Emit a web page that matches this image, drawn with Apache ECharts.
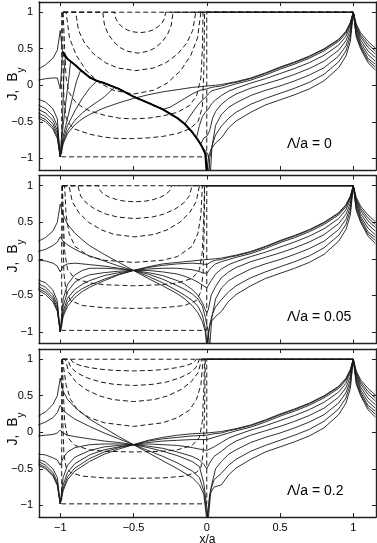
<!DOCTYPE html>
<html><head><meta charset="utf-8">
<script src="https://cdn.jsdelivr.net/npm/echarts@6/dist/echarts.min.js"></script>
<style>html,body{margin:0;padding:0;background:#fff}#c{width:377px;height:543px}</style>
</head><body><div id="c"></div>
<script>
// ---------- tick labels / panel labels ----------
const xTicks = [-1, -0.5, 0, 0.5, 1];
const yTicks = [-1, -0.5, 0, 0.5, 1];
const panelLabels = ['Λ/a = 0', 'Λ/a = 0.05', 'Λ/a = 0.2'];

// ---------- right-hand part (x >= 0.1), shared by all panels ----------
const XR = [0.1,0.15,0.2,0.3,0.4,0.5,0.6,0.7,0.8,0.9,0.95,0.98,1,1.02,1.05,1.1,1.15];
const R0 = [0.01,0.03,0.05,0.1,0.17,0.25,0.32,0.4,0.5,0.63,0.74,0.86,1,0.84,0.72,0.6,0.51];
const R1 = [-0.01,0.02,0.04,0.09,0.16,0.24,0.31,0.39,0.49,0.62,0.73,0.85,1,0.82,0.69,0.56,0.47];
const R2 = [-0.04,-0.01,0.02,0.07,0.14,0.22,0.29,0.37,0.47,0.6,0.71,0.84,1,0.8,0.66,0.52,0.43];
const R3 = [-0.14,-0.08,-0.04,0.03,0.09,0.16,0.23,0.31,0.41,0.55,0.67,0.81,1,0.78,0.62,0.47,0.38];
const R4 = [-0.26,-0.18,-0.12,-0.04,0.02,0.08,0.15,0.23,0.33,0.48,0.61,0.76,1,0.75,0.58,0.42,0.33];
const R5 = [-0.4,-0.3,-0.24,-0.14,-0.07,-0.01,0.06,0.14,0.24,0.4,0.54,0.71,1,0.72,0.55,0.37,0.29];
const R6 = [-0.56,-0.45,-0.37,-0.26,-0.18,-0.11,-0.04,0.04,0.15,0.32,0.47,0.66,1,0.69,0.52,0.34,0.25];
const R7 = [-0.72,-0.58,-0.49,-0.37,-0.27,-0.2,-0.13,-0.05,0.06,0.24,0.4,0.6,1,0.66,0.5,0.31,0.21];

// ---------- panel 1 (Λ/a = 0): B_y, left part ----------
const L1_0 = [[-1.15,-0.45],[-1.1,-0.5],[-1.05,-0.6],[-1.02,-0.73],[-1,-0.98],[-0.98,-0.8],[-0.95,-0.66],[-0.9,-0.54],[-0.85,-0.46],[-0.8,-0.4],[-0.7,-0.31],[-0.6,-0.24],[-0.5,-0.18],[-0.4,-0.13],[-0.3,-0.09],[-0.2,-0.06],[-0.1,-0.03],[0,-0.01],[0.06,0.0]];
const L1_1 = [[-1.15,-0.42],[-1.1,-0.47],[-1.05,-0.57],[-1.02,-0.7],[-1,-0.98],[-0.98,-0.78],[-0.95,-0.62],[-0.9,-0.48],[-0.85,-0.38],[-0.8,-0.3],[-0.7,-0.16],[-0.63,-0.03],[-0.6,-0.05],[-0.5,-0.155],[-0.4,-0.24],[-0.3,-0.33],[-0.25,-0.3],[-0.2,-0.24],[-0.15,-0.18],[-0.1,-0.12],[-0.06,-0.08],[-0.03,-0.06],[0,-0.05],[0.03,-0.03],[0.06,-0.02]];
const L1_2 = [[-1.15,-0.38],[-1.1,-0.43],[-1.05,-0.53],[-1.02,-0.66],[-1,-0.98],[-0.98,-0.75],[-0.95,-0.55],[-0.9,-0.35],[-0.85,-0.18],[-0.8,-0.04],[-0.75,0.06],[-0.7,0.03],[-0.6,-0.05],[-0.5,-0.155],[-0.4,-0.24],[-0.3,-0.33],[-0.2,-0.45],[-0.15,-0.53],[-0.1,-0.38],[-0.06,-0.27],[-0.03,-0.2],[-0.01,-0.17],[0.01,-0.12],[0.03,-0.08],[0.06,-0.06]];
const L1_3 = [[-1.15,-0.33],[-1.1,-0.38],[-1.05,-0.48],[-1.02,-0.62],[-1,-0.98],[-0.98,-0.7],[-0.95,-0.45],[-0.92,-0.2],[-0.89,0.05],[-0.86,0.21],[-0.85,0.19],[-0.8,0.11],[-0.75,0.06],[-0.7,0.03],[-0.6,-0.05],[-0.5,-0.155],[-0.4,-0.24],[-0.3,-0.33],[-0.2,-0.45],[-0.15,-0.53],[-0.1,-0.64],[-0.07,-0.72],[-0.05,-0.55],[-0.03,-0.43],[-0.01,-0.37],[0.01,-0.33],[0.03,-0.26],[0.06,-0.2]];
const L1_4 = [[-1.15,-0.27],[-1.1,-0.32],[-1.05,-0.42],[-1.02,-0.56],[-1,-0.98],[-0.98,-0.55],[-0.96,-0.2],[-0.94,0.12],[-0.93,0.32],[-0.9,0.28],[-0.85,0.19],[-0.8,0.11],[-0.75,0.06],[-0.7,0.03],[-0.6,-0.05],[-0.5,-0.155],[-0.4,-0.24],[-0.3,-0.33],[-0.2,-0.45],[-0.15,-0.53],[-0.1,-0.64],[-0.06,-0.75],[-0.04,-0.8],[-0.02,-0.72],[0,-0.7],[0.02,-0.62],[0.04,-0.45],[0.06,-0.36]];
const L1_5 = [[-1.15,-0.19],[-1.1,-0.23],[-1.05,-0.32],[-1.02,-0.46],[-1,-0.98],[-0.985,-0.5],[-0.975,0.15],[-0.965,0.4],[-0.95,0.36],[-0.9,0.28],[-0.85,0.19],[-0.8,0.11],[-0.75,0.06],[-0.7,0.03],[-0.6,-0.05],[-0.5,-0.155],[-0.4,-0.24],[-0.3,-0.33],[-0.2,-0.45],[-0.15,-0.53],[-0.1,-0.64],[-0.06,-0.75],[-0.03,-0.85],[-0.015,-0.88],[0.01,-0.95],[0.025,-1.2],[0.035,-0.85],[0.06,-0.55]];
const L1_6 = [[-1.15,0.07],[-1.1,0.09],[-1.05,0.1],[-1.02,0.1],[-1,-0.05],[-0.985,0.42],[-0.95,0.36],[-0.9,0.28],[-0.85,0.19],[-0.8,0.11],[-0.75,0.06],[-0.7,0.03],[-0.6,-0.05],[-0.5,-0.155],[-0.4,-0.24],[-0.3,-0.33],[-0.2,-0.45],[-0.15,-0.53],[-0.1,-0.64],[-0.06,-0.75],[-0.03,-0.85],[-0.01,-0.94],[0.012,-1.2],[0.02,-1.0],[0.04,-0.8],[0.06,-0.68]];
const L1_7 = [[-1.15,0.22],[-1.1,0.28],[-1.05,0.37],[-1.02,0.48],[-1,0.75],[-0.985,0.46],[-0.95,0.36],[-0.9,0.28],[-0.85,0.19],[-0.8,0.11],[-0.75,0.06],[-0.7,0.03],[-0.6,-0.05],[-0.5,-0.155],[-0.4,-0.24],[-0.3,-0.33],[-0.2,-0.45],[-0.15,-0.53],[-0.1,-0.64],[-0.06,-0.75],[-0.03,-0.85],[-0.01,-0.94],[0,-1.2],[0.01,-1.0],[0.03,-0.87],[0.06,-0.79]];
const T1 = [[-0.985,0.46],[-0.95,0.36],[-0.9,0.28],[-0.85,0.19],[-0.8,0.11],[-0.75,0.06],[-0.7,0.03],[-0.6,-0.05],[-0.5,-0.155],[-0.4,-0.24],[-0.3,-0.33],[-0.2,-0.45],[-0.15,-0.53],[-0.1,-0.64],[-0.06,-0.75],[-0.03,-0.85],[-0.01,-0.94],[0,-1.2]];

// ---------- panel 2 (Λ/a = 0.05): B_y, left part ----------
const L2_0 = [[-1.15,-0.43],[-1.1,-0.49],[-1.05,-0.59],[-1.02,-0.72],[-1,-1.0],[-0.98,-0.79],[-0.95,-0.65],[-0.9,-0.53],[-0.85,-0.45],[-0.8,-0.39],[-0.7,-0.3],[-0.6,-0.22],[-0.5,-0.16],[-0.4,-0.11],[-0.3,-0.07],[-0.2,-0.05],[-0.1,-0.03],[0,-0.01],[0.06,0.0]];
const L2_1 = [[-1.15,-0.41],[-1.1,-0.46],[-1.05,-0.56],[-1.02,-0.7],[-1,-1.0],[-0.98,-0.76],[-0.95,-0.6],[-0.9,-0.48],[-0.85,-0.41],[-0.8,-0.36],[-0.7,-0.28],[-0.6,-0.21],[-0.5,-0.16],[-0.4,-0.12],[-0.3,-0.09],[-0.2,-0.07],[-0.1,-0.06],[-0.03,-0.07],[0,-0.08],[0.03,-0.04],[0.06,-0.02]];
const L2_2 = [[-1.15,-0.38],[-1.1,-0.43],[-1.05,-0.53],[-1.02,-0.67],[-1,-1.0],[-0.98,-0.72],[-0.95,-0.54],[-0.9,-0.42],[-0.85,-0.35],[-0.8,-0.3],[-0.7,-0.23],[-0.6,-0.19],[-0.5,-0.16],[-0.4,-0.14],[-0.3,-0.13],[-0.2,-0.13],[-0.15,-0.14],[-0.1,-0.15],[-0.06,-0.17],[-0.03,-0.19],[0,-0.2],[0.03,-0.12],[0.06,-0.07]];
const L2_3 = [[-1.15,-0.34],[-1.1,-0.39],[-1.05,-0.49],[-1.02,-0.63],[-1,-1.0],[-0.98,-0.65],[-0.95,-0.45],[-0.9,-0.32],[-0.85,-0.26],[-0.8,-0.22],[-0.7,-0.19],[-0.6,-0.17],[-0.5,-0.16],[-0.4,-0.16],[-0.3,-0.18],[-0.2,-0.21],[-0.15,-0.24],[-0.1,-0.28],[-0.06,-0.32],[-0.03,-0.36],[0,-0.4],[0.03,-0.3],[0.06,-0.21]];
const L2_4 = [[-1.15,-0.29],[-1.1,-0.33],[-1.05,-0.43],[-1.02,-0.58],[-1,-1.0],[-0.98,-0.55],[-0.95,-0.35],[-0.9,-0.22],[-0.85,-0.16],[-0.8,-0.13],[-0.7,-0.13],[-0.6,-0.14],[-0.5,-0.16],[-0.4,-0.19],[-0.3,-0.23],[-0.2,-0.3],[-0.15,-0.35],[-0.1,-0.42],[-0.06,-0.5],[-0.03,-0.6],[-0.01,-0.7],[0,-0.74],[0.01,-0.7],[0.03,-0.5],[0.06,-0.38]];
const L2_5 = [[-1.15,-0.02],[-1.1,-0.03],[-1.05,-0.06],[-1.02,-0.1],[-1,-0.18],[-0.98,-0.1],[-0.95,-0.07],[-0.9,-0.06],[-0.8,-0.08],[-0.7,-0.1],[-0.6,-0.13],[-0.5,-0.16],[-0.4,-0.21],[-0.3,-0.28],[-0.2,-0.37],[-0.15,-0.42],[-0.1,-0.48],[-0.06,-0.55],[-0.03,-0.65],[-0.01,-0.8],[0.01,-1.0],[0.02,-1.2],[0.035,-0.8],[0.06,-0.55]];
const L2_6 = [[-1.15,0.1],[-1.1,0.13],[-1.05,0.18],[-1.02,0.23],[-1,0.3],[-0.98,0.24],[-0.95,0.19],[-0.9,0.13],[-0.85,0.08],[-0.8,0.04],[-0.7,-0.03],[-0.6,-0.1],[-0.5,-0.16],[-0.4,-0.24],[-0.3,-0.33],[-0.2,-0.44],[-0.15,-0.5],[-0.1,-0.57],[-0.06,-0.65],[-0.03,-0.77],[-0.01,-0.95],[0.005,-1.2],[0.02,-0.9],[0.04,-0.75],[0.06,-0.66]];
const L2_7 = [[-1.15,0.24],[-1.1,0.29],[-1.05,0.38],[-1.02,0.5],[-1,0.75],[-0.98,0.6],[-0.95,0.47],[-0.9,0.35],[-0.85,0.26],[-0.8,0.18],[-0.7,0.06],[-0.6,-0.05],[-0.5,-0.16],[-0.4,-0.27],[-0.3,-0.37],[-0.2,-0.48],[-0.15,-0.55],[-0.1,-0.64],[-0.06,-0.74],[-0.03,-0.86],[-0.01,-1.0],[0,-1.2],[0.01,-1.0],[0.03,-0.86],[0.06,-0.79]];

// ---------- panel 3 (Λ/a = 0.2): B_y, left part ----------
const L3_0 = [[-1.15,-0.45],[-1.1,-0.5],[-1.05,-0.6],[-1.02,-0.73],[-1,-0.98],[-0.98,-0.8],[-0.95,-0.65],[-0.9,-0.53],[-0.8,-0.4],[-0.7,-0.3],[-0.6,-0.23],[-0.5,-0.17],[-0.4,-0.11],[-0.3,-0.07],[-0.2,-0.04],[-0.1,-0.02],[0,-0.01],[0.05,0.0]];
const L3_1 = [[-1.15,-0.43],[-1.1,-0.48],[-1.05,-0.58],[-1.02,-0.71],[-1,-0.98],[-0.98,-0.77],[-0.95,-0.61],[-0.9,-0.49],[-0.8,-0.36],[-0.7,-0.27],[-0.6,-0.21],[-0.5,-0.17],[-0.4,-0.12],[-0.3,-0.09],[-0.2,-0.07],[-0.1,-0.05],[0,-0.04],[0.05,-0.02]];
const L3_2 = [[-1.15,-0.4],[-1.1,-0.45],[-1.05,-0.55],[-1.02,-0.68],[-1,-0.98],[-0.98,-0.72],[-0.95,-0.55],[-0.9,-0.43],[-0.8,-0.31],[-0.7,-0.24],[-0.6,-0.2],[-0.5,-0.17],[-0.4,-0.14],[-0.3,-0.12],[-0.2,-0.11],[-0.1,-0.1],[0,-0.1],[0.05,-0.07]];
const L3_3 = [[-1.15,-0.37],[-1.1,-0.41],[-1.05,-0.5],[-1.02,-0.62],[-1,-0.98],[-0.98,-0.62],[-0.95,-0.45],[-0.9,-0.34],[-0.8,-0.25],[-0.7,-0.2],[-0.6,-0.18],[-0.5,-0.17],[-0.4,-0.16],[-0.3,-0.17],[-0.2,-0.18],[-0.1,-0.21],[-0.05,-0.23],[0,-0.25],[0.05,-0.2]];
const L3_4 = [[-1.15,-0.3],[-1.1,-0.31],[-1.05,-0.35],[-1.02,-0.38],[-1,-0.45],[-0.98,-0.35],[-0.95,-0.27],[-0.9,-0.21],[-0.8,-0.17],[-0.7,-0.16],[-0.6,-0.16],[-0.5,-0.17],[-0.4,-0.19],[-0.3,-0.22],[-0.2,-0.27],[-0.1,-0.33],[-0.05,-0.38],[-0.02,-0.44],[0,-0.5],[0.02,-0.42],[0.05,-0.33]];
const L3_5 = [[-1.15,-0.05],[-1.1,-0.04],[-1.05,-0.03],[-1.02,-0.01],[-1,0.03],[-0.98,-0.01],[-0.95,-0.04],[-0.9,-0.06],[-0.8,-0.09],[-0.7,-0.12],[-0.6,-0.14],[-0.5,-0.17],[-0.4,-0.21],[-0.3,-0.26],[-0.2,-0.32],[-0.1,-0.4],[-0.05,-0.47],[-0.02,-0.7],[0.01,-1.2],[0.03,-0.75],[0.06,-0.5]];
const L3_6 = [[-1.15,0.1],[-1.1,0.14],[-1.05,0.2],[-1.02,0.27],[-1,0.37],[-0.98,0.3],[-0.95,0.25],[-0.9,0.18],[-0.8,0.08],[-0.7,-0.01],[-0.6,-0.09],[-0.5,-0.17],[-0.4,-0.25],[-0.3,-0.33],[-0.2,-0.42],[-0.1,-0.53],[-0.05,-0.62],[-0.02,-0.8],[0.005,-1.2],[0.025,-0.8],[0.05,-0.65]];
const L3_7 = [[-1.15,0.22],[-1.1,0.28],[-1.05,0.38],[-1.02,0.5],[-1,0.74],[-0.98,0.56],[-0.95,0.45],[-0.9,0.34],[-0.8,0.18],[-0.7,0.06],[-0.6,-0.06],[-0.5,-0.17],[-0.4,-0.28],[-0.3,-0.39],[-0.2,-0.5],[-0.1,-0.62],[-0.05,-0.72],[-0.02,-0.85],[0,-1.2],[0.02,-0.85],[0.05,-0.75]];

// ---------- dashed curves: J, panel 1 ----------
const J1_0 = [[-0.98,1],[1,1]];
const J1_1 = [[-0.98,1],[-0.63,1],[-0.621,0.913],[-0.604,0.852],[-0.578,0.8],[-0.543,0.757],[-0.508,0.733],[-0.455,0.72],[-0.403,0.733],[-0.368,0.757],[-0.333,0.8],[-0.306,0.852],[-0.289,0.913],[-0.28,1],[1,1]];
const J1_2 = [[-0.98,1],[-0.71,1],[-0.698,0.825],[-0.674,0.705],[-0.638,0.6],[-0.59,0.515],[-0.542,0.466],[-0.47,0.44],[-0.398,0.466],[-0.35,0.515],[-0.302,0.6],[-0.266,0.705],[-0.242,0.825],[-0.23,1],[1,1]];
const J1_3 = [[-0.98,1],[-0.895,1],[-0.875,0.75],[-0.834,0.578],[-0.772,0.429],[-0.69,0.307],[-0.608,0.237],[-0.485,0.2],[-0.362,0.237],[-0.28,0.307],[-0.198,0.429],[-0.137,0.578],[-0.096,0.75],[-0.075,1],[1,1]];
const J1_4 = [[-0.98,1],[-0.96,1],[-0.937,0.65],[-0.891,0.41],[-0.822,0.2],[-0.73,0.03],[-0.638,-0.068],[-0.5,-0.12],[-0.362,-0.068],[-0.27,0.03],[-0.178,0.2],[-0.109,0.41],[-0.063,0.65],[-0.04,1],[1,1]];
const J1_5 = [[-0.98,1],[-0.975,1],[-0.97,0.5],[-0.96,0.1],[-0.94,-0.1],[-0.9,-0.22],[-0.85,-0.3],[-0.8,-0.35],[-0.7,-0.41],[-0.6,-0.45],[-0.5,-0.46],[-0.4,-0.45],[-0.3,-0.42],[-0.2,-0.37],[-0.12,-0.28],[-0.07,-0.15],[-0.04,0.1],[-0.03,0.5],[-0.025,1],[1,1]];
const J1_6 = [[-0.985,1],[-0.98,0.3],[-0.975,-0.2],[-0.96,-0.45],[-0.93,-0.55],[-0.9,-0.6],[-0.8,-0.67],[-0.7,-0.71],[-0.6,-0.73],[-0.5,-0.73],[-0.4,-0.72],[-0.3,-0.7],[-0.2,-0.66],[-0.12,-0.6],[-0.06,-0.5],[-0.03,-0.3],[-0.02,0.2],[-0.015,1],[1,1]];
const J1_7 = [[-0.99,1],[-0.99,-0.98],[0,-0.98],[0,1],[1,1]];

// ---------- dashed curves: J, panel 2 ----------
const J2_0 = [[-0.985,1],[1,1]];
const J2_1 = [[-0.985,1],[-0.74,1],[-0.728,0.931],[-0.703,0.884],[-0.665,0.843],[-0.615,0.81],[-0.565,0.79],[-0.49,0.78],[-0.415,0.79],[-0.365,0.81],[-0.315,0.843],[-0.278,0.884],[-0.253,0.931],[-0.24,1],[1,1]];
const J2_2 = [[-0.985,1],[-0.88,1],[-0.861,0.86],[-0.822,0.763],[-0.763,0.679],[-0.685,0.61],[-0.607,0.571],[-0.49,0.55],[-0.373,0.571],[-0.295,0.61],[-0.217,0.679],[-0.158,0.763],[-0.119,0.86],[-0.1,1],[1,1]];
const J2_3 = [[-0.985,1],[-0.94,1],[-0.918,0.782],[-0.873,0.631],[-0.807,0.5],[-0.718,0.394],[-0.629,0.332],[-0.495,0.3],[-0.362,0.332],[-0.273,0.394],[-0.184,0.5],[-0.117,0.631],[-0.072,0.782],[-0.05,1],[1,1]];
const J2_4 = [[-0.985,1],[-0.97,1],[-0.96,0.6],[-0.94,0.35],[-0.9,0.17],[-0.8,0.03],[-0.7,-0.02],[-0.5,-0.05],[-0.3,-0.02],[-0.2,0.03],[-0.1,0.17],[-0.06,0.35],[-0.04,0.6],[-0.03,1],[1,1]];
const J2_5 = [[-0.985,1],[-0.98,0.6],[-0.97,0.1],[-0.95,-0.15],[-0.9,-0.27],[-0.8,-0.33],[-0.7,-0.355],[-0.5,-0.37],[-0.3,-0.355],[-0.2,-0.33],[-0.1,-0.27],[-0.05,-0.15],[-0.03,0.1],[-0.02,0.6],[-0.015,1],[1,1]];
const J2_6 = [[-0.985,1],[-0.982,0.4],[-0.975,-0.2],[-0.96,-0.45],[-0.93,-0.57],[-0.85,-0.64],[-0.7,-0.67],[-0.5,-0.68],[-0.3,-0.67],[-0.15,-0.64],[-0.07,-0.57],[-0.04,-0.45],[-0.025,-0.2],[-0.018,0.4],[-0.015,1],[1,1]];
const J2_7 = [[-0.99,1],[-0.99,-0.98],[0,-0.98],[0,1],[1,1]];

// ---------- dashed curves: J, panel 3 ----------
const J3_0 = [[-0.985,1],[1,1]];
const J3_1 = [[-0.985,1],[-0.93,1],[-0.909,0.95],[-0.866,0.916],[-0.801,0.886],[-0.715,0.861],[-0.629,0.847],[-0.5,0.84],[-0.371,0.847],[-0.285,0.861],[-0.199,0.886],[-0.135,0.916],[-0.092,0.95],[-0.07,1],[1,1]];
const J3_2 = [[-0.985,1],[-0.95,1],[-0.928,0.888],[-0.883,0.81],[-0.815,0.743],[-0.725,0.688],[-0.635,0.657],[-0.5,0.64],[-0.365,0.657],[-0.275,0.688],[-0.185,0.743],[-0.118,0.81],[-0.073,0.888],[-0.05,1],[1,1]];
const J3_3 = [[-0.985,1],[-0.965,1],[-0.942,0.819],[-0.895,0.694],[-0.826,0.586],[-0.733,0.498],[-0.64,0.447],[-0.5,0.42],[-0.36,0.447],[-0.267,0.498],[-0.174,0.586],[-0.105,0.694],[-0.058,0.819],[-0.035,1],[1,1]];
const J3_4 = [[-0.985,1],[-0.975,1],[-0.96,0.65],[-0.93,0.45],[-0.88,0.3],[-0.8,0.2],[-0.7,0.13],[-0.5,0.08],[-0.3,0.13],[-0.2,0.2],[-0.12,0.3],[-0.07,0.45],[-0.04,0.65],[-0.025,1],[1,1]];
const J3_5 = [[-0.985,1],[-0.98,0.6],[-0.97,0.15],[-0.95,-0.07],[-0.9,-0.18],[-0.8,-0.24],[-0.7,-0.26],[-0.5,-0.27],[-0.3,-0.26],[-0.2,-0.24],[-0.1,-0.18],[-0.05,-0.07],[-0.03,0.15],[-0.02,0.6],[-0.015,1],[1,1]];
const J3_6 = [[-0.99,1],[-0.985,0.3],[-0.975,-0.3],[-0.96,-0.48],[-0.93,-0.55],[-0.85,-0.6],[-0.7,-0.625],[-0.5,-0.63],[-0.3,-0.625],[-0.15,-0.6],[-0.07,-0.55],[-0.04,-0.48],[-0.025,-0.3],[-0.015,0.3],[-0.01,1],[1,1]];
const J3_7 = [[-0.99,1],[-0.99,-0.98],[0,-0.98],[0,1],[1,1]];

// ---------- assemble ----------
const rights = [R0,R1,R2,R3,R4,R5,R6,R7];
const lefts = [
  [L1_0,L1_1,L1_2,L1_3,L1_4,L1_5,L1_6,L1_7],
  [L2_0,L2_1,L2_2,L2_3,L2_4,L2_5,L2_6,L2_7],
  [L3_0,L3_1,L3_2,L3_3,L3_4,L3_5,L3_6,L3_7]
];
const dashes = [
  [J1_0,J1_1,J1_2,J1_3,J1_4,J1_5,J1_6,J1_7],
  [J2_0,J2_1,J2_2,J2_3,J2_4,J2_5,J2_6,J2_7],
  [J3_0,J3_1,J3_2,J3_3,J3_4,J3_5,J3_6,J3_7]
];

const FONT = 'Liberation Sans, Arial, Helvetica, sans-serif';
const tops = [2, 175.5, 349];
const yLabelCenters = [84, 256, 429];
const H = 168;
const frame = {show:true, onZero:false, lineStyle:{color:'#222', width:1.4}};
const minusFmt = v => (v < 0 ? '\u2212' + String(-v) : String(v));

const grids = [], xAxes = [], yAxes = [], series = [], graphics = [];
for (let p = 0; p < 3; p++) {
  grids.push({left:39, top:tops[p], width:337, height:H, containLabel:false, outerBoundsMode:'none'});
  const last = p === 2;
  xAxes.push({type:'value', gridIndex:p, position:'bottom', min:-1.145, max:1.155,
    axisLine:frame, splitLine:{show:false},
    axisTick:{show:true, inside:true, length:4, customValues:xTicks, lineStyle:{color:'#222', width:1}},
    axisLabel:{show:last, customValues:xTicks, formatter:minusFmt, margin:5, fontSize:11, color:'#000', fontFamily:FONT},
    name: last ? 'x/a' : '', nameLocation:'middle', nameGap:15,
    nameTextStyle:{fontSize:12, color:'#000', fontFamily:FONT}});
  xAxes.push({type:'value', gridIndex:p, position:'top', min:-1.145, max:1.155,
    axisLine:frame, splitLine:{show:false},
    axisTick:{show:true, inside:true, length:4, customValues:xTicks, lineStyle:{color:'#222', width:1}},
    axisLabel:{show:false}});
  yAxes.push({type:'value', gridIndex:p, position:'left', min:-1.16, max:1.14,
    axisLine:frame, splitLine:{show:false},
    axisTick:{show:true, inside:true, length:4, customValues:yTicks, lineStyle:{color:'#222', width:1}},
    axisLabel:{show:true, customValues:yTicks, formatter:minusFmt, margin:6, fontSize:11, color:'#000', fontFamily:FONT}});
  yAxes.push({type:'value', gridIndex:p, position:'right', min:-1.16, max:1.14,
    axisLine:frame, splitLine:{show:false},
    axisTick:{show:true, inside:true, length:4, customValues:yTicks, lineStyle:{color:'#222', width:1}},
    axisLabel:{show:false}});

  for (let k = 0; k < 8; k++) {
    const data = lefts[p][k].concat(XR.map((x, i) => [x, rights[k][i]]));
    series.push({type:'line', xAxisIndex:2*p, yAxisIndex:2*p, data, symbol:'none', showSymbol:false,
      silent:true, clip:true, lineStyle:{color:'#1a1a1a', width:0.9}, z:3});
  }
  for (let k = 0; k < 8; k++) {
    series.push({type:'line', xAxisIndex:2*p, yAxisIndex:2*p, data:dashes[p][k], symbol:'none', showSymbol:false,
      silent:true, clip:true, lineStyle:{color:'#1a1a1a', width:1, type:[5,3]}, z:2});
  }
  graphics.push({type:'text', left:287, top:tops[p] + 135, style:{text:panelLabels[p], fontSize:14, fontFamily:FONT, fill:'#000'}});
  graphics.push({type:'text', x:16, y:yLabelCenters[p], rotation:Math.PI/2,
    style:{text:'{a|J,  B}{b|y}', align:'center', verticalAlign:'middle', fill:'#000', fontFamily:FONT,
      rich:{a:{fontSize:14, fontFamily:FONT, fill:'#000', lineHeight:16, verticalAlign:'top'},
            b:{fontSize:10, fontFamily:FONT, fill:'#000', lineHeight:20, verticalAlign:'bottom'}}}});
}
series.push({type:'line', xAxisIndex:0, yAxisIndex:0, data:T1, symbol:'none', showSymbol:false,
  silent:true, clip:true, lineStyle:{color:'#000', width:2}, z:4});

const chart = echarts.init(document.getElementById('c'), null, {renderer:'canvas'});
chart.setOption({animation:false, backgroundColor:'#fff', grid:grids, xAxis:xAxes, yAxis:yAxes, series, graphic:graphics});
</script></body></html>
